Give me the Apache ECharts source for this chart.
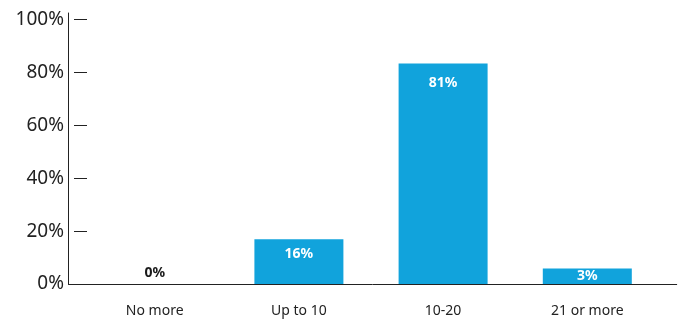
<!DOCTYPE html>
<html>
<head>
<meta charset="utf-8">
<script src="https://cdn.jsdelivr.net/npm/echarts@6/dist/echarts.min.js"></script>
<style>html,body{margin:0;padding:0;background:#fff}#c{width:683px;height:320px}</style>
</head>
<body>
<div id="c"></div>
<script>
var categories = ['No more', 'Up to 10', '10-20', '21 or more'];
var barValues = [0, 16.9, 83.4, 5.9];
var valueLabels = ['0%', '16%', '81%', '3%'];
var yTicks = [0, 20, 40, 60, 80, 100];

var labelStyles = [
  {position: 'top', distance: 4, color: '#1a1a1a'},
  {position: 'insideTop', distance: 8, color: '#fff'},
  {position: 'insideTop', distance: 12, color: '#fff'},
  {position: 'inside', distance: 0, color: '#fff'}
];

var chart = echarts.init(document.getElementById('c'), null, {renderer: 'canvas'});
chart.setOption({
  animation: false,
  grid: [
    {left: 82.6, right: 23.6, top: 19.7, bottom: 36},
    {left: 68.5, right: 6.3, top: 13, bottom: 36}
  ],
  xAxis: [
    {
      type: 'category', gridIndex: 0, data: categories,
      axisLine: {show: false}, axisTick: {show: false},
      axisLabel: {margin: 20, fontFamily: 'Noto Sans', fontSize: 14, color: '#222'}
    },
    {
      type: 'value', gridIndex: 1, min: 0, max: 1,
      axisLine: {show: true, lineStyle: {color: '#222', width: 1}},
      axisTick: {show: false}, axisLabel: {show: false}, splitLine: {show: false}
    }
  ],
  yAxis: [
    {
      type: 'value', gridIndex: 0, min: yTicks[0], max: yTicks[yTicks.length - 1], interval: 20,
      offset: -4.4,
      axisLine: {show: false},
      axisTick: {show: true, length: 13, lineStyle: {color: '#222', width: 1}},
      splitLine: {show: false},
      axisLabel: {margin: 23, fontFamily: 'Noto Sans', fontSize: 19, color: '#222',
        formatter: function (v) { return v + '%'; }}
    },
    {
      type: 'value', gridIndex: 1, min: 0, max: 1,
      axisLine: {show: true, lineStyle: {color: '#222', width: 1}},
      axisTick: {show: false}, axisLabel: {show: false}, splitLine: {show: false}
    }
  ],
  series: [{
    type: 'bar',
    xAxisIndex: 0, yAxisIndex: 0,
    barWidth: 89,
    itemStyle: {color: '#11a3dc'},
    data: barValues.map(function (v, i) {
      var s = labelStyles[i];
      return {
        value: v,
        label: {
          show: true, position: s.position, distance: s.distance, color: s.color,
          fontFamily: 'Noto Sans', fontWeight: 'bold', fontSize: 14,
          formatter: valueLabels[i]
        }
      };
    })
  }]
});
</script>
</body>
</html>
